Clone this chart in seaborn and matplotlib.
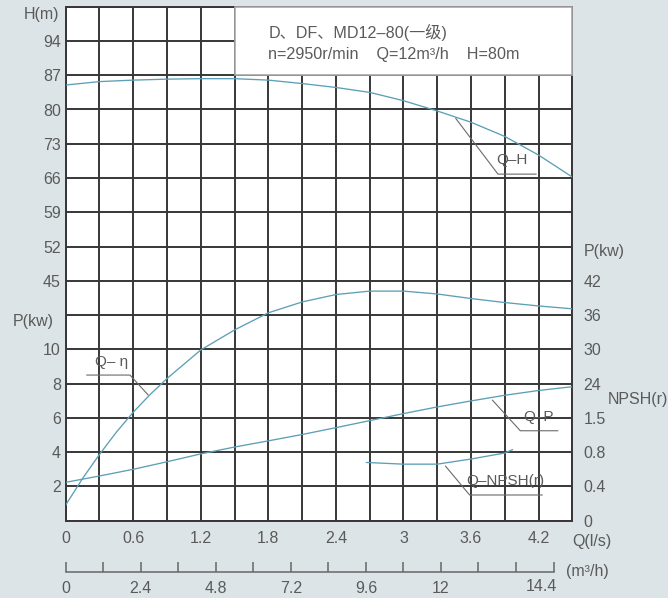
import numpy as np
import matplotlib
matplotlib.use("Agg")
import matplotlib.pyplot as plt
import matplotlib.patches as patches
import seaborn as sns

# -----------------------------
# data
# -----------------------------
flow_ls = [0, 0.3, 0.6, 0.9, 1.2, 1.5, 1.8, 2.1, 2.4, 2.7, 3.0, 3.3, 3.6, 3.9, 4.2, 4.5]
head_m = [85.0, 85.7, 86.0, 86.2, 86.3, 86.3, 86.0, 85.3, 84.5, 83.5, 81.8, 79.7, 77.4, 74.5, 70.7, 66.2]
power_kw = [2.24, 2.61, 3.0, 3.44, 3.9, 4.3, 4.66, 5.03, 5.43, 5.84, 6.25, 6.64, 6.99, 7.32, 7.6, 7.82]

eta_flow = [0, 0.15, 0.3, 0.45, 0.6, 0.75, 0.9, 1.2, 1.5, 1.8, 2.1, 2.4, 2.7, 3.0, 3.3, 3.6, 3.9, 4.2, 4.5]
eta_pct = [2.75, 7.4, 11.6, 15.5, 19.0, 22.1, 24.9, 29.9, 33.4, 36.4, 38.3, 39.6, 40.2, 40.2, 39.7, 38.9, 38.2, 37.6, 37.1]

npsh_flow = [2.67, 3.0, 3.3, 3.6, 3.9, 3.97]
npsh_m = [0.68, 0.66, 0.66, 0.72, 0.79, 0.83]

# axis ticks / labels
q_ticks = [round(0.3 * i, 1) for i in range(16)]
q_labels = ['0', '', '0.6', '', '1.2', '', '1.8', '', '2.4', '', '3', '', '3.6', '', '4.2', '']
h_ticks = [-4 + 7 * i for i in range(16)]
h_labels = [''] * 7 + ['45', '52', '59', '66', '73', '80', '87', '94', '']
p_ticks = [2, 4, 6, 8, 10]
p_labels = ['2', '4', '6', '8', '10']
eta_ticks = [24, 30, 36, 42]
eta_labels = ['24', '30', '36', '42']
npsh_ticks = [0, 0.4, 0.8, 1.2]
npsh_labels = ['0', '0.4', '0.8', '1.5']
m3h_ticks = [round(1.2 * i, 1) for i in range(14)]
m3h_labels = ['0', '', '2.4', '', '4.8', '', '7.2', '', '9.6', '', '12', '', '', '']

title_1 = 'D、DF、MD12–80(一级)'
title_2 = 'n=2950r/min    Q=12m³/h    H=80m'

# -----------------------------
# style
# -----------------------------
sns.set_style("white")
plt.rcParams['font.family'] = ['Liberation Sans', 'Noto Sans CJK SC', 'DejaVu Sans']

BG = '#dce4e7'
GRID = '#373737'
CURVE = '#5c9fb6'
TXT = '#5a5a5a'
FS = 11.5

fig = plt.figure(figsize=(6.68, 5.98), dpi=100, facecolor=BG)
rect = [65.7 / 668, 77.3 / 598, 506.6 / 668, 514 / 598]
ax_h = fig.add_axes(rect)
ax_h.set_facecolor('white')

ax_p = ax_h.twinx()
ax_e = ax_h.twinx()
ax_n = ax_h.twinx()

# curves
sns.lineplot(x=flow_ls, y=head_m, ax=ax_h, color=CURVE, lw=0.95, zorder=5)
sns.lineplot(x=flow_ls, y=power_kw, ax=ax_p, color=CURVE, lw=0.95)
sns.lineplot(x=eta_flow, y=eta_pct, ax=ax_e, color=CURVE, lw=0.95)
sns.lineplot(x=npsh_flow, y=npsh_m, ax=ax_n, color=CURVE, lw=0.95)

ax_h.set_xlim(0, 4.5)
ax_h.set_ylim(-4, 101)
ax_p.set_ylim(0, 30)
ax_e.set_ylim(0, 90)
ax_n.set_ylim(0, 6)

# grid on the head axis
ax_h.set_axisbelow(True)
ax_h.set_xticks(q_ticks)
ax_h.set_xticklabels(q_labels)
ax_h.set_yticks(h_ticks)
ax_h.set_yticklabels(h_labels)
ax_h.grid(True, color=GRID, lw=1.4)
ax_h.tick_params(axis='both', length=0, labelsize=FS, labelcolor=TXT)
ax_h.tick_params(axis='x', pad=7.5)
ax_h.tick_params(axis='y', pad=3.5)
for s in ax_h.spines.values():
    s.set_color(GRID)
    s.set_linewidth(1.4)

ax_p.yaxis.tick_left()
ax_p.set_yticks(p_ticks)
ax_p.set_yticklabels(p_labels)
ax_p.tick_params(axis='y', length=0, labelsize=FS, labelcolor=TXT, pad=3.5)

ax_e.set_yticks(eta_ticks)
ax_e.set_yticklabels(eta_labels)
ax_e.tick_params(axis='y', length=0, labelsize=FS, labelcolor=TXT, pad=8)

ax_n.set_yticks(npsh_ticks)
ax_n.set_yticklabels(npsh_labels)
ax_n.tick_params(axis='y', length=0, labelsize=FS, labelcolor=TXT, pad=8)

for a in (ax_h, ax_p, ax_e, ax_n):
    a.set_xlabel('')
    a.set_ylabel('')
for a in (ax_p, ax_e, ax_n):
    for s in a.spines.values():
        s.set_visible(False)

# white title box over the grid
box = patches.Rectangle((1.5, 87), 3.0, 14, facecolor='white', edgecolor='#a8a8a8',
                        lw=1.2, zorder=3, clip_on=False)
ax_h.add_patch(box)
ax_h.text(1.8, 95.8, title_1, fontsize=11.6, color=TXT, va='center', ha='left', zorder=4)
ax_h.text(1.8, 91.3, title_2, fontsize=11.6, color=TXT, va='center', ha='left', zorder=4)

# axis titles
tf = ax_h.transAxes
ax_h.text(-0.012, 0.984, 'H(m)', transform=tf, ha='right', va='center', fontsize=FS, color=TXT)
ax_h.text(-0.023, 0.387, 'P(kw)', transform=tf, ha='right', va='center', fontsize=FS, color=TXT)
ax_h.text(1.023, 0.523, 'P(kw)', transform=tf, ha='left', va='center', fontsize=FS, color=TXT)
ax_h.text(1.069, 0.235, 'NPSH(r)', transform=tf, ha='left', va='center', fontsize=FS, color=TXT)
ax_h.text(1.0, -0.0395, 'Q(l/s)', transform=tf, ha='left', va='center', fontsize=FS, color=TXT)
ax_h.text(0.9876, -0.0998, '(m³/h)', transform=tf, ha='left', va='center', fontsize=FS, color=TXT)

# curve labels with leader lines
LEAD = '#6a6a6a'
ax_h.plot([3.464, 3.84, 4.18], [78.2, 66.8, 66.8], color=LEAD, lw=0.8, zorder=6)
ax_h.text(3.965, 69.7, 'Q–H', ha='center', va='center', fontsize=11, color=TXT, zorder=6)

ax_e.plot([0.186, 0.571, 0.733], [25.5, 25.5, 22.0], color=LEAD, lw=0.8)
ax_e.text(0.408, 27.8, 'Q– η', ha='center', va='center', fontsize=11, color=TXT)

ax_p.plot([3.79, 4.038, 4.372], [7.04, 5.25, 5.25], color=LEAD, lw=0.8)
ax_p.text(4.2, 6.07, 'Q–P', ha='center', va='center', fontsize=11, color=TXT)

ax_n.plot([3.373, 3.588, 4.234], [0.638, 0.3, 0.3], color=LEAD, lw=0.8)
ax_n.text(3.906, 0.467, 'Q–NPSH(r)', ha='center', va='center', fontsize=11, color=TXT)

# secondary flow axis in m3/h
ax_m = fig.add_axes([rect[0], (598 - 571.7) / 598, rect[2], 0.02])
ax_m.patch.set_visible(False)
ax_m.set_xlim(0, 4.5 * 3.6)
ax_m.set_yticks([])
for k in ('top', 'left', 'right'):
    ax_m.spines[k].set_visible(False)
ax_m.spines['bottom'].set_bounds(0, m3h_ticks[-1])
ax_m.spines['bottom'].set_color('#666666')
ax_m.spines['bottom'].set_linewidth(1.1)
ax_m.set_xticks(m3h_ticks)
ax_m.set_xticklabels(m3h_labels)
ax_m.tick_params(axis='x', bottom=True, direction='in', length=7, width=1.1, color='#666666',
                 labelsize=FS, labelcolor=TXT, pad=6.5)
ax_m.text(m3h_ticks[-1] + 0.1, -1.25, '14.4', transform=ax_m.get_xaxis_transform(),
          ha='right', va='center', fontsize=FS, color=TXT)

plt.savefig('out.png', dpi=100, facecolor=BG)
plt.close()
